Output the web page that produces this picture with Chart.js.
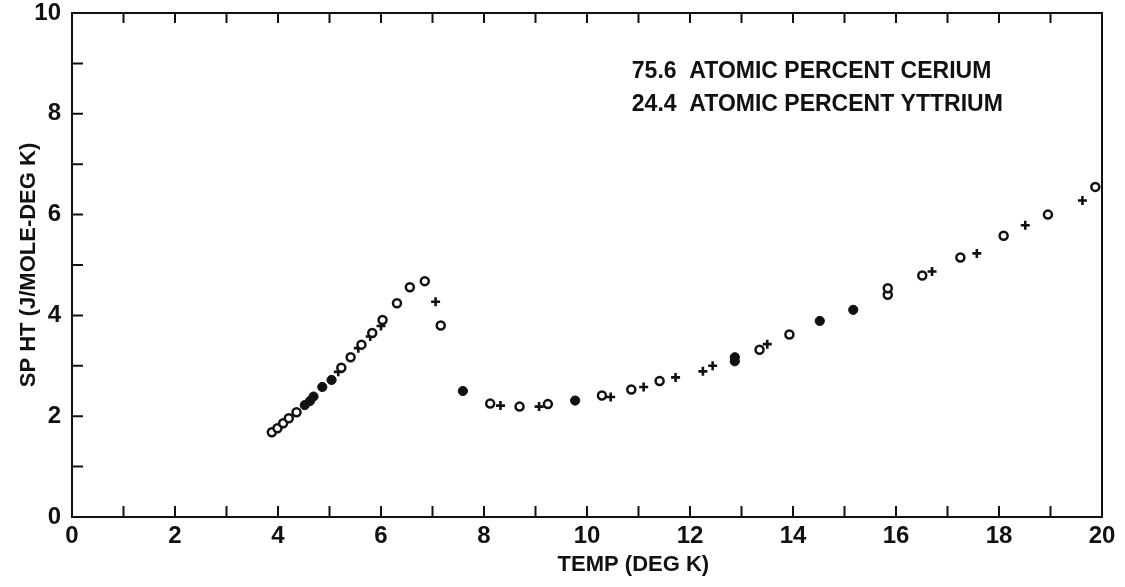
<!DOCTYPE html>
<html>
<head>
<meta charset="utf-8">
<script src="https://cdn.jsdelivr.net/npm/chart.js@4"></script>
<style>
  html, body { margin: 0; padding: 0; background: #fff; }
  #wrap { width: 1125px; height: 587px; }
</style>
</head>
<body>
<div id="wrap"><canvas id="chart"></canvas></div>
<script>
// temperature (deg K) and specific heat (J/mole-deg K)
const openT = [3.88, 3.99, 4.10, 4.21, 4.36, 5.23, 5.41, 5.62, 5.83, 6.03, 6.31, 6.56, 6.85, 7.16,
  8.12, 8.69, 9.24, 10.29, 10.86, 11.41, 13.35, 13.93, 15.84, 15.84, 16.51, 17.25, 18.09, 18.95, 19.87];
const openC = [1.68, 1.76, 1.86, 1.96, 2.08, 2.96, 3.17, 3.42, 3.65, 3.91, 4.24, 4.56, 4.68, 3.80,
  2.25, 2.19, 2.24, 2.41, 2.53, 2.70, 3.32, 3.62, 4.41, 4.54, 4.79, 5.15, 5.58, 6.00, 6.55];

const filledT = [4.52, 4.62, 4.69, 4.86, 5.04, 7.59, 9.77, 12.87, 12.87, 14.52, 15.17];
const filledC = [2.22, 2.30, 2.39, 2.58, 2.72, 2.50, 2.31, 3.09, 3.17, 3.89, 4.11];

const plusT = [5.17, 5.56, 5.79, 6.00, 7.06, 8.32, 9.07, 10.46, 11.10, 11.72, 12.25, 12.44,
  13.50, 16.70, 17.57, 18.51, 19.62];
const plusC = [2.88, 3.35, 3.58, 3.79, 4.27, 2.21, 2.19, 2.38, 2.58, 2.77, 2.89, 3.00,
  3.43, 4.87, 5.23, 5.79, 6.28];

const xTicks = [0, 2, 4, 6, 8, 10, 12, 14, 16, 18, 20];
const yTicks = [0, 2, 4, 6, 8, 10];
const noteLines = ['75.6  ATOMIC PERCENT CERIUM', '24.4  ATOMIC PERCENT YTTRIUM'];

const ink = '#111';
const fontFam = '"Liberation Sans", Arial, sans-serif';

function pts(xs, ys) {
  return xs.map((x, i) => ({ x: x, y: ys[i] }));
}

// frame, inward ticks, legend note and x title
const framePlugin = {
  id: 'frame',
  afterDraw(chart) {
    const ctx = chart.ctx;
    const a = chart.chartArea;
    const xs = chart.scales.x, ys = chart.scales.y;
    ctx.save();
    ctx.strokeStyle = ink;
    ctx.lineWidth = 2;
    ctx.strokeRect(a.left, a.top, a.right - a.left, a.bottom - a.top);
    ctx.beginPath();
    for (let t = 1; t < 20; t++) {
      const px = xs.getPixelForValue(t);
      ctx.moveTo(px, a.bottom); ctx.lineTo(px, a.bottom - 11);
      ctx.moveTo(px, a.top); ctx.lineTo(px, a.top + 10);
    }
    for (let c = 1; c < 10; c++) {
      const py = ys.getPixelForValue(c);
      ctx.moveTo(a.left, py); ctx.lineTo(a.left + 11, py);
    }
    ctx.stroke();

    ctx.fillStyle = ink;
    ctx.font = 'bold 23px ' + fontFam;
    ctx.textAlign = 'left';
    ctx.textBaseline = 'middle';
    const nx = xs.getPixelForValue(10.87);
    ctx.fillText(noteLines[0], nx, ys.getPixelForValue(8.83));
    ctx.fillText(noteLines[1], nx, ys.getPixelForValue(8.19));

    ctx.font = 'bold 22px ' + fontFam;
    ctx.textAlign = 'center';
    ctx.fillText('TEMP (DEG K)', xs.getPixelForValue(10.9), chart.height - 22);
    ctx.restore();
  }
};

new Chart(document.getElementById('chart'), {
  type: 'scatter',
  data: {
    datasets: [
      {
        label: 'open',
        data: pts(openT, openC),
        pointStyle: 'circle',
        pointRadius: 4,
        pointBorderWidth: 2.5,
        borderColor: ink,
        backgroundColor: '#fff'
      },
      {
        label: 'filled',
        data: pts(filledT, filledC),
        pointStyle: 'circle',
        pointRadius: 4.6,
        pointBorderWidth: 1,
        borderColor: ink,
        backgroundColor: ink
      },
      {
        label: 'plus',
        data: pts(plusT, plusC),
        pointStyle: 'cross',
        pointRadius: 4.5,
        pointBorderWidth: 2.6,
        borderColor: ink,
        backgroundColor: ink
      }
    ]
  },
  options: {
    responsive: true,
    maintainAspectRatio: false,
    animation: false,
    layout: { padding: { top: 0, right: 23, left: 0, bottom: 0 } },
    plugins: {
      legend: { display: false },
      tooltip: { enabled: false }
    },
    scales: {
      x: {
        type: 'linear',
        min: 0,
        max: 20,
        afterBuildTicks(scale) { scale.ticks = xTicks.map(v => ({ value: v })); },
        afterFit(scale) { scale.height = 70; },
        grid: { display: false, drawTicks: false },
        border: { display: false },
        ticks: {
          color: ink,
          padding: 5,
          maxRotation: 0,
          autoSkip: false,
          font: { family: fontFam, size: 24, weight: 'bold' }
        }
      },
      y: {
        type: 'linear',
        min: 0,
        max: 10,
        afterBuildTicks(scale) { scale.ticks = yTicks.map(v => ({ value: v })); },
        afterFit(scale) {
          scale.width = 72;
          scale.paddingTop = 13;
          scale.paddingBottom = 0;
        },
        grid: { display: false, drawTicks: false },
        border: { display: false },
        ticks: {
          color: ink,
          padding: 11,
          autoSkip: false,
          font: { family: fontFam, size: 24, weight: 'bold' }
        },
        title: {
          display: true,
          text: 'SP HT (J/MOLE-DEG K)',
          color: ink,
          padding: { top: 16, bottom: 0 },
          font: { family: fontFam, size: 22, weight: 'bold' }
        }
      }
    }
  },
  plugins: [framePlugin]
});
</script>
</body>
</html>
